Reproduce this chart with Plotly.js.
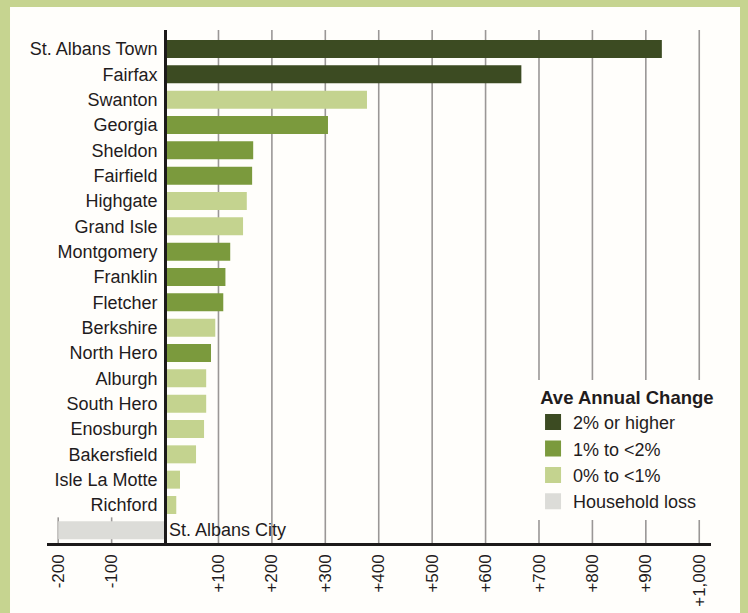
<!DOCTYPE html>
<html>
<head>
<meta charset="utf-8">
<script src="https://cdn.plot.ly/plotly-3.0.1.min.js"></script>
<style>
  html, body { margin: 0; padding: 0; background: #c6d490; }
  #chart { width: 748px; height: 613px; }
</style>
</head>
<body>
<div id="chart"></div>
<script>
// ---- data ----
const towns = [
  "St. Albans Town", "Fairfax", "Swanton", "Georgia", "Sheldon", "Fairfield",
  "Highgate", "Grand Isle", "Montgomery", "Franklin", "Fletcher", "Berkshire",
  "North Hero", "Alburgh", "South Hero", "Enosburgh", "Bakersfield",
  "Isle La Motte", "Richford", "St. Albans City"
];
const householdChange = [
  930, 667, 378, 305, 165, 163,
  153, 146, 122, 113, 109, 94,
  86, 77, 77, 73, 58,
  28, 21, -200
];
// 0 = 2% or higher, 1 = 1% to <2%, 2 = 0% to <1%, 3 = Household loss
const changeClass = [
  0, 0, 2, 1, 1, 1,
  2, 2, 1, 1, 1, 2,
  1, 2, 2, 2, 2,
  2, 2, 3
];
const classNames = ["2% or higher", "1% to <2%", "0% to <1%", "Household loss"];
const classColors = ["#3c4b22", "#7b9a3d", "#c4d38f", "#dcdcd8"];
const xTickVals = [-200, -100, 100, 200, 300, 400, 500, 600, 700, 800, 900, 1000];
const xTickText = ["-200", "-100", "+100", "+200", "+300", "+400", "+500", "+600", "+700", "+800", "+900", "+1,000"];
const insideLabelTown = "St. Albans City";

// ---- build chart ----
const FONT = "Liberation Sans, Arial, Helvetica, sans-serif";
const TEXT = "#1f1c1d";
const xRange = [-221, 1022];
const zeroPos = (0 - xRange[0]) / (xRange[1] - xRange[0]);

const traces = [];
classNames.forEach((name, c) => {
  const ys = [], xs = [];
  towns.forEach((t, i) => { if (changeClass[i] === c) { ys.push(t); xs.push(householdChange[i]); } });
  traces.push({
    type: "bar", orientation: "h", name: name, legendgroup: name,
    x: xs, y: ys, width: 0.71, showlegend: false,
    marker: { color: classColors[c], line: { width: 0 } },
    hoverinfo: "x+y"
  });
});
// legend entries (square swatches)
classNames.forEach((name, c) => {
  traces.push({
    type: "scatter", mode: "markers", name: name, legendgroup: name,
    x: [null], y: [null], showlegend: true, hoverinfo: "skip",
    marker: { symbol: "square", size: 16, color: classColors[c], line: { width: 0 } }
  });
});

const shapes = [];
// cream panel inside the green frame
shapes.push({
  type: "rect", xref: "paper", yref: "paper", layer: "below",
  x0: -0.0557, x1: 1.0437, y0: -0.2, y1: 1.0448,
  fillcolor: "#fffefb", line: { width: 0 }
});
// vertical grid lines (full height for positive ticks, short stubs for negative ticks)
xTickVals.forEach(v => {
  shapes.push({
    type: "line", xref: "x", yref: "paper", layer: "below",
    x0: v, x1: v, y0: 0, y1: v > 0 ? 1 : 0.05,
    line: { color: "#9a9796", width: 1.6 }
  });
});

const layout = {
  width: 748, height: 613,
  margin: { l: 47, r: 37, t: 30, b: 70, pad: 0 },
  paper_bgcolor: "#c6d490",
  plot_bgcolor: "rgba(0,0,0,0)",
  font: { family: FONT, color: TEXT, size: 18 },
  barmode: "overlay",
  showlegend: true,
  xaxis: {
    range: xRange, fixedrange: true,
    tickvals: xTickVals, ticktext: xTickText, tickangle: -90,
    tickfont: { size: 17, color: TEXT, family: FONT },
    ticklabelstandoff: 2,
    showgrid: false, zeroline: false,
    showline: true, linecolor: "#1c1a1a", linewidth: 2.5,
    ticks: ""
  },
  yaxis: {
    type: "category", categoryorder: "array", categoryarray: towns,
    range: [19.5, -0.75], fixedrange: true,
    tickvals: towns.filter(t => t !== insideLabelTown),
    tickfont: { size: 18, color: TEXT, family: FONT },
    ticklabelstandoff: 3,
    anchor: "free", position: zeroPos, side: "left",
    showgrid: false, zeroline: false,
    showline: true, linecolor: "#1c1a1a", linewidth: 3,
    ticks: ""
  },
  legend: {
    x: 0.732, y: 0.318, xanchor: "left", yanchor: "top",
    bgcolor: "#fffefb", borderwidth: 0,
    title: { text: "<b>\u00a0Ave Annual Change</b>", font: { size: 18.5, color: TEXT, family: FONT } },
    font: { size: 18, color: TEXT, family: FONT },
    traceorder: "normal", itemclick: false, itemdoubleclick: false,
    itemsizing: "trace"
  },
  shapes: shapes,
  annotations: [{
    x: 0, y: insideLabelTown, xref: "x", yref: "y",
    text: insideLabelTown, showarrow: false,
    xanchor: "left", yanchor: "middle", xshift: 2,
    font: { size: 18, color: TEXT, family: FONT }
  }]
};

Plotly.newPlot("chart", traces, layout, { displayModeBar: false, staticPlot: true });
</script>
</body>
</html>
